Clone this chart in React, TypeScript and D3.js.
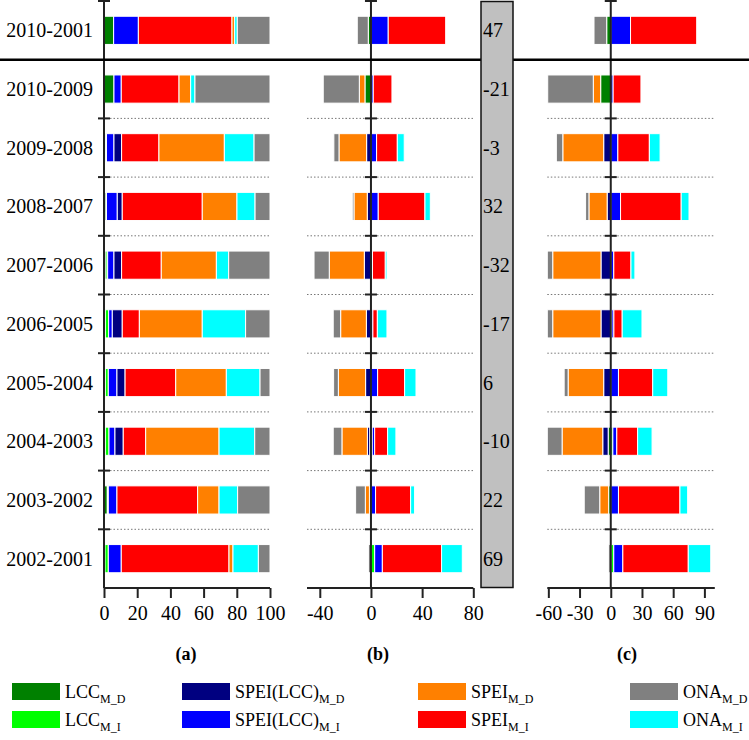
import React, { useRef, useEffect } from 'react';
import * as d3 from 'd3';

const periods = [
  '2010-2001', '2010-2009', '2009-2008', '2008-2007', '2007-2006',
  '2006-2005', '2005-2004', '2004-2003', '2003-2002', '2002-2001',
];
const netChange = [47, -21, -3, 32, -32, -17, 6, -10, 22, 69];

// (a) relative contribution, %
const shareLccD = [5.8, 6.0, 1.0, 1.2, 1.2, 0.8, 0.8, 0.8, 2.0, 0.6];
const shareLccI = [0, 0, 0.5, 0.3, 1.0, 2.0, 1.8, 2.2, 0.6, 2.0];
const shareSpeiLccI = [14.9, 4.4, 4.5, 6.5, 3.8, 2.2, 5.2, 3.6, 5.2, 7.8];
const shareSpeiLccD = [0, 0, 4.6, 3.0, 4.6, 6.0, 4.9, 5.0, 0, 0];
const shareSpeiI = [56.4, 34.8, 22.5, 48.2, 23.9, 10.3, 30.5, 13.5, 48.6, 64.9];
const shareSpeiD = [1.6, 7.0, 39.4, 20.9, 33.2, 37.9, 30.5, 44.2, 12.9, 2.4];
const shareOnaI = [1.6, 2.6, 17.9, 10.9, 7.4, 26.1, 20.3, 21.5, 11.2, 15.3];
const shareOnaD = [19.7, 45.2, 9.6, 9.0, 24.9, 14.7, 6.0, 9.2, 19.5, 7.0];

// (b) absolute contribution
const absLccD = [-2.1, -4.7, 0, -0.3, 0, 0, 0, -1.0, -1.2, 0];
const absLccI = [0, 0, 0, 0, 0, 0, 0, 1.0, 0, 2.9];
const absSpeiLccD = [0, 0, -3.4, -2.6, -5.2, -3.6, -4.2, -1.8, 0, 0];
const absSpeiLccI = [13.5, 1.8, 4.4, 5.7, 1.2, 1.5, 5.2, 1.9, 3.6, 6.0];
const absSpeiD = [0, -4.4, -21.6, -10.4, -27.4, -20.1, -21.3, -19.9, -3.2, 0];
const absSpeiI = [44.9, 14.6, 16.2, 36.5, 10.0, 3.5, 21.1, 10.1, 27.4, 46.3];
const absOnaD = [-8.6, -28.2, -4.0, -1.3, -11.9, -5.8, -3.7, -6.8, -7.6, -2.0];
const absOnaI = [0, 0, 5.4, 4.2, 1.3, 7.5, 8.9, 6.5, 3.1, 16.2];

// (c) contribution in percent of change
const pctLccD = [-3.9, -9.7, 0, 0, 0, 0, 0, -2.5, -2.0, 0];
const pctLccI = [0, 0, 0, 0, 0, 1.0, 0, 2.0, 0, 2.9];
const pctSpeiLccD = [0, 0, -6.8, -3.5, -9.4, -9.4, -6.8, -5.2, 0, 0];
const pctSpeiLccI = [19.0, 2.3, 6.8, 9.4, 2.9, 2.0, 7.4, 3.8, 7.4, 8.7];
const pctSpeiD = [0, -7.1, -39.3, -17.5, -46.4, -46.4, -34.2, -39.1, -8.6, 0];
const pctSpeiI = [63.6, 26.7, 30.3, 58.3, 16.5, 8.0, 32.9, 20.0, 59.1, 62.9];
const pctOnaD = [-12.2, -43.8, -6.2, -3.2, -5.2, -5.2, -3.8, -14.2, -14.9, -2.0];
const pctOnaI = [0, 0, 10.3, 7.5, 3.8, 19.0, 14.5, 13.9, 7.4, 21.6];

const ticksA = [0, 20, 40, 60, 80, 100];
const ticksB = [-40, 0, 40, 80];
const ticksC = [-60, -30, 0, 30, 60, 90];

type Key = 'LCC_D' | 'LCC_I' | 'SPEILCC_D' | 'SPEILCC_I' | 'SPEI_D' | 'SPEI_I' | 'ONA_D' | 'ONA_I';

const colors: Record<Key, string> = {
  LCC_D: '#008000',
  LCC_I: '#00ff00',
  SPEILCC_D: '#000080',
  SPEILCC_I: '#0000ff',
  SPEI_D: '#ff8000',
  SPEI_I: '#ff0000',
  ONA_D: '#808080',
  ONA_I: '#00ffff',
};

const legendItems: { key: Key; main: string; sub: string }[] = [
  { key: 'LCC_D', main: 'LCC', sub: 'M_D' },
  { key: 'LCC_I', main: 'LCC', sub: 'M_I' },
  { key: 'SPEILCC_D', main: 'SPEI(LCC)', sub: 'M_D' },
  { key: 'SPEILCC_I', main: 'SPEI(LCC)', sub: 'M_I' },
  { key: 'SPEI_D', main: 'SPEI', sub: 'M_D' },
  { key: 'SPEI_I', main: 'SPEI', sub: 'M_I' },
  { key: 'ONA_D', main: 'ONA', sub: 'M_D' },
  { key: 'ONA_I', main: 'ONA', sub: 'M_I' },
];

// stacking order seen in panel (a)
const orderA: Key[] = ['LCC_D', 'LCC_I', 'SPEILCC_I', 'SPEILCC_D', 'SPEI_I', 'SPEI_D', 'ONA_I', 'ONA_D'];
// diverging order for (b) and (c)
const orderBC: Key[] = ['LCC_D', 'LCC_I', 'SPEILCC_D', 'SPEILCC_I', 'SPEI_D', 'SPEI_I', 'ONA_D', 'ONA_I'];

const FONT = "'Liberation Serif', 'Times New Roman', Times, serif";
const W = 749;
const H = 740;

function buildRows(src: Record<Key, number[]>) {
  return periods.map((p, i) => {
    const r: any = { period: p };
    (Object.keys(src) as Key[]).forEach(k => { r[k] = src[k][i]; });
    return r;
  });
}

const App: React.FC = () => {
  const svgRef = useRef<SVGSVGElement | null>(null);

  useEffect(() => {
    if (!svgRef.current) return;
    const svg = d3.select(svgRef.current);
    svg.selectAll('*').remove();

    const top = 1;
    const bottom = 588;
    const y = d3.scaleBand<string>().domain(periods).range([top, bottom]).padding(0);
    const step = y.step();
    const barH = step * 0.48;
    const barOff = (step - barH) / 2;

    const rowsA = buildRows({
      LCC_D: shareLccD, LCC_I: shareLccI, SPEILCC_D: shareSpeiLccD, SPEILCC_I: shareSpeiLccI,
      SPEI_D: shareSpeiD, SPEI_I: shareSpeiI, ONA_D: shareOnaD, ONA_I: shareOnaI,
    });
    const rowsB = buildRows({
      LCC_D: absLccD, LCC_I: absLccI, SPEILCC_D: absSpeiLccD, SPEILCC_I: absSpeiLccI,
      SPEI_D: absSpeiD, SPEI_I: absSpeiI, ONA_D: absOnaD, ONA_I: absOnaI,
    });
    const rowsC = buildRows({
      LCC_D: pctLccD, LCC_I: pctLccI, SPEILCC_D: pctSpeiLccD, SPEILCC_I: pctSpeiLccI,
      SPEI_D: pctSpeiD, SPEI_I: pctSpeiI, ONA_D: pctOnaD, ONA_I: pctOnaI,
    });

    const stackA = d3.stack<any, Key>().keys(orderA)(rowsA);
    const stackB = d3.stack<any, Key>().keys(orderBC).offset(d3.stackOffsetDiverging)(rowsB);
    const stackC = d3.stack<any, Key>().keys(orderBC).offset(d3.stackOffsetDiverging)(rowsC);

    const xA = d3.scaleLinear().domain([0, 100]).range([104, 270]);
    const xB = d3.scaleLinear().domain([-50, 80]).range([307, 473.3]);
    const xC = d3.scaleLinear().domain([-61, 100]).range([547.3, 714.8]);

    const panels = [
      { stack: stackA, x: xA, axisX: xA(0), ticks: ticksA, dotFrom: xA(0) + 6, label: '(a)', labelX: 186 },
      { stack: stackB, x: xB, axisX: xB(0), ticks: ticksB, dotFrom: xB.range()[0], label: '(b)', labelX: 378 },
      { stack: stackC, x: xC, axisX: xC(0), ticks: ticksC, dotFrom: xC.range()[0], label: '(c)', labelX: 627 },
    ];

    // row labels
    svg.append('g')
      .selectAll('text')
      .data(periods)
      .enter()
      .append('text')
      .attr('x', 93)
      .attr('y', d => y(d)! + step / 2)
      .attr('dy', '0.35em')
      .attr('text-anchor', 'end')
      .attr('font-family', FONT)
      .attr('font-size', 20)
      .text(d => d);

    panels.forEach(p => {
      const g = svg.append('g');
      const [x0, x1] = p.x.range();

      // dotted separators between rows (skip the first, which is the solid line)
      g.selectAll('.sep')
        .data(periods.slice(2))
        .enter()
        .append('line')
        .attr('x1', p.dotFrom)
        .attr('x2', x1)
        .attr('y1', d => y(d)!)
        .attr('y2', d => y(d)!)
        .attr('stroke', '#777')
        .attr('stroke-width', 1)
        .attr('stroke-dasharray', '1.5,2');

      // bars
      p.stack.forEach(series => {
        const key = series.key as Key;
        g.selectAll(null)
          .data(series.filter(d => Math.abs(d[1] - d[0]) > 1e-9))
          .enter()
          .append('rect')
          .attr('x', d => p.x(Math.min(d[0], d[1])))
          .attr('width', d => Math.abs(p.x(d[1]) - p.x(d[0])))
          .attr('y', d => y(d.data.period)! + barOff)
          .attr('height', barH)
          .attr('fill', colors[key])
          .attr('stroke', '#fff')
          .attr('stroke-width', 1);
      });

      // vertical axis line
      g.append('line')
        .attr('x1', p.axisX).attr('x2', p.axisX)
        .attr('y1', top).attr('y2', bottom)
        .attr('stroke', '#222').attr('stroke-width', 2);

      // y ticks at the row boundaries
      const tickYs = [top, ...periods.slice(2).map(d => y(d)!)];
      g.selectAll('.ytick')
        .data(tickYs)
        .enter()
        .append('line')
        .attr('x1', p.axisX - 6).attr('x2', p.axisX + 6)
        .attr('y1', d => d).attr('y2', d => d)
        .attr('stroke', '#222').attr('stroke-width', 2);

      // x axis
      const axis = d3.axisBottom(p.x)
        .tickValues(p.ticks)
        .tickSize(10)
        .tickSizeOuter(0)
        .tickFormat(d => String(d));
      const ax = g.append('g')
        .attr('transform', `translate(0, ${bottom})`)
        .call(axis);
      ax.select('.domain').attr('stroke', '#222').attr('stroke-width', 2)
        .attr('d', `M${x0},0H${x1}`);
      ax.selectAll('.tick line').attr('stroke', '#222').attr('stroke-width', 2);
      ax.selectAll('.tick text')
        .attr('font-family', FONT)
        .attr('font-size', 20)
        .attr('fill', '#000')
        .attr('y', 18)
        .attr('dy', '0.71em');

      // panel label
      svg.append('text')
        .attr('x', p.labelX)
        .attr('y', 660)
        .attr('text-anchor', 'middle')
        .attr('font-family', FONT)
        .attr('font-weight', 'bold')
        .attr('font-size', 18)
        .text(p.label);
    });

    // solid separator under the whole-period row
    svg.append('line')
      .attr('x1', 0).attr('x2', W)
      .attr('y1', y(periods[1])!).attr('y2', y(periods[1])!)
      .attr('stroke', '#000').attr('stroke-width', 2.5);

    // net change column
    svg.append('rect')
      .attr('x', 481).attr('y', top + 0.5)
      .attr('width', 32).attr('height', bottom - top - 1)
      .attr('fill', '#c0c0c0')
      .attr('stroke', '#111').attr('stroke-width', 1.5);

    svg.append('g')
      .selectAll('text')
      .data(periods)
      .enter()
      .append('text')
      .attr('x', 483)
      .attr('y', d => y(d)! + step / 2)
      .attr('dy', '0.35em')
      .attr('font-family', FONT)
      .attr('font-size', 20)
      .text((d, i) => String(netChange[i]));

    // legend
    const colX = [12, 182, 418, 630];
    const rowY = [683, 711];
    const lg = svg.append('g');
    legendItems.forEach((item, i) => {
      const cx = colX[Math.floor(i / 2)];
      const cy = rowY[i % 2];
      lg.append('rect')
        .attr('x', cx).attr('y', cy)
        .attr('width', 48).attr('height', 17)
        .attr('fill', colors[item.key]);
      const t = lg.append('text')
        .attr('x', cx + 53)
        .attr('y', cy + 15)
        .attr('font-family', FONT)
        .attr('font-size', 18);
      t.append('tspan').text(item.main);
      t.append('tspan')
        .attr('font-size', 12)
        .attr('dy', 5)
        .text(item.sub);
    });
  }, []);

  return (
    <svg
      ref={svgRef}
      width={W}
      height={H}
      style={{ position: 'absolute', left: 0, top: 0, background: '#fff' }}
    />
  );
};

export default App;
